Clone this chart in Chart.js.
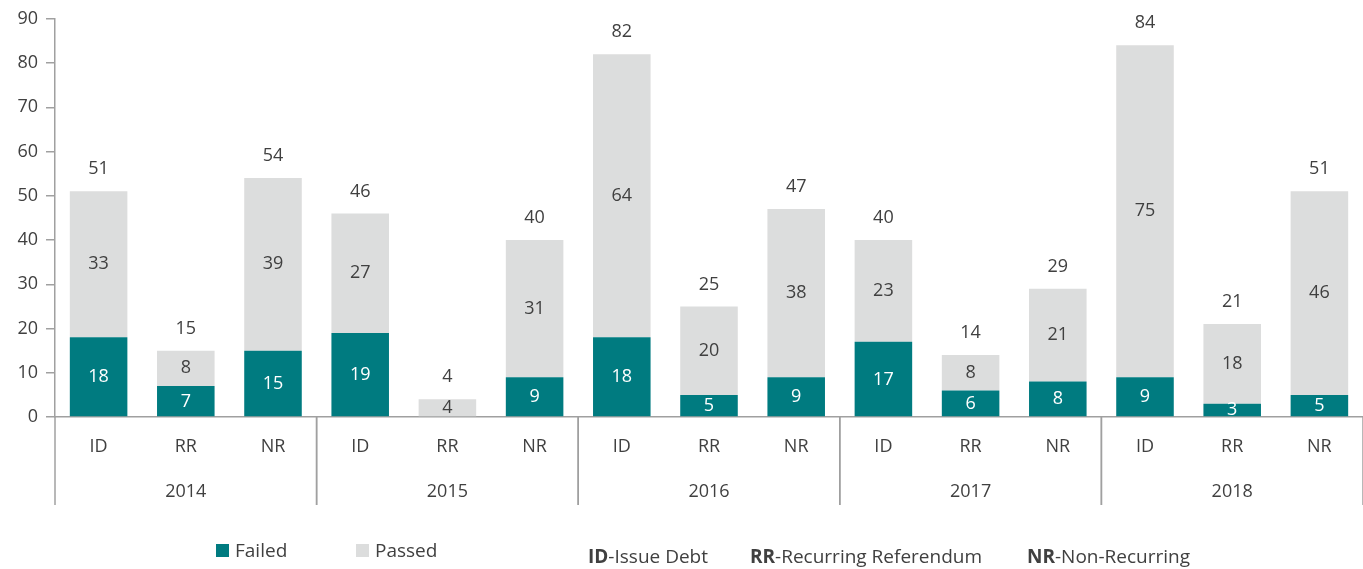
<!DOCTYPE html>
<html>
<head>
<meta charset="utf-8">
<script src="https://cdn.jsdelivr.net/npm/chart.js@4"></script>
<style>
  body { margin: 0; background: #fff; font-family: "Open Sans", sans-serif; color: #404040; }
  #wrap { position: relative; width: 1363px; height: 569px; }
  .leg { position: absolute; font-size: 19px; white-space: nowrap; }
  .sw { display: inline-block; width: 13px; height: 13px; margin-right: 6px; vertical-align: 0px; }
</style>
</head>
<body>
<div id="wrap">
  <canvas id="c" width="1363" height="569"></canvas>
  <div class="leg" style="left:216px; top:537px;"><span class="sw" style="background:#007b80"></span>Failed</div>
  <div class="leg" style="left:356px; top:537px;"><span class="sw" style="background:#dcdddd"></span>Passed</div>
  <div class="leg" style="left:588px; top:543px;"><b>ID</b>-Issue Debt</div>
  <div class="leg" style="left:750px; top:543px;"><b>RR</b>-Recurring Referendum</div>
  <div class="leg" style="left:1027px; top:543px;"><b>NR</b>-Non-Recurring</div>
</div>
<script>
// chart data
const types = ['ID', 'RR', 'NR'];
const years = ['2014', '2015', '2016', '2017', '2018'];
const failed = [18, 7, 15, 19, 0, 9, 18, 5, 9, 17, 6, 8, 9, 3, 5];
const passed = [33, 8, 39, 27, 4, 31, 64, 20, 38, 23, 8, 21, 75, 18, 46];
const yTicks = [0, 10, 20, 30, 40, 50, 60, 70, 80, 90];

const labels = [];
years.forEach(y => types.forEach(t => labels.push(t)));

const TEXT = '#404040';
const AXIS = '#a0a0a0';
const FONT = '"Open Sans", sans-serif';

// draws segment values, totals, category + year labels and separators
const annotate = {
  id: 'annotate',
  afterDatasetsDraw(chart) {
    const ctx = chart.ctx;
    const x = chart.scales.x;
    const y = chart.scales.y;
    ctx.save();
    ctx.font = '18px ' + FONT;
    ctx.textAlign = 'center';
    ctx.textBaseline = 'middle';

    labels.forEach((lab, i) => {
      const cx = x.getPixelForValue(i);
      const f = failed[i], p = passed[i];
      if (f > 0) {
        ctx.fillStyle = '#ffffff';
        ctx.fillText(f, cx, y.getPixelForValue(f / 2));
      }
      if (p > 0) {
        ctx.fillStyle = TEXT;
        ctx.fillText(p, cx, y.getPixelForValue(f + p / 2));
      }
      ctx.fillStyle = TEXT;
      ctx.fillText(f + p, cx, y.getPixelForValue(f + p) - 22);
      // category label
      ctx.fillText(lab, cx, y.bottom + 30);
    });

    // year labels and separators
    ctx.strokeStyle = AXIS;
    ctx.lineWidth = 1.5;
    const half = (x.getPixelForValue(1) - x.getPixelForValue(0)) / 2;
    years.forEach((yr, g) => {
      const first = x.getPixelForValue(g * 3);
      const last = x.getPixelForValue(g * 3 + 2);
      ctx.fillStyle = TEXT;
      ctx.fillText(yr, (first + last) / 2, y.bottom + 75);
      [first - half, last + half].forEach(px => {
        ctx.beginPath();
        ctx.moveTo(px, y.bottom);
        ctx.lineTo(px, y.bottom + 88);
        ctx.stroke();
      });
    });
    ctx.restore();
  }
};

new Chart(document.getElementById('c'), {
  type: 'bar',
  data: {
    labels: labels,
    datasets: [
      { label: 'Failed', data: failed, backgroundColor: '#007b80' },
      { label: 'Passed', data: passed, backgroundColor: '#dcdddd' }
    ]
  },
  options: {
    responsive: false,
    animation: false,
    layout: { padding: { top: 16, right: 0, left: 0, bottom: 0 } },
    plugins: { legend: { display: false }, tooltip: { enabled: false } },
    datasets: { bar: { categoryPercentage: 1, barPercentage: 0.66 } },
    scales: {
      x: {
        stacked: true,
        ticks: { display: false },
        grid: { display: false },
        border: { color: AXIS, width: 1.5 },
        afterFit: s => { s.height = 152; }
      },
      y: {
        stacked: true,
        min: 0,
        max: 90,
        afterBuildTicks: s => { s.ticks = yTicks.map(v => ({ value: v })); },
        ticks: { color: TEXT, font: { family: FONT, size: 18 }, padding: 8 },
        grid: { drawOnChartArea: false, tickLength: 9, color: AXIS, lineWidth: 1.5 },
        border: { color: AXIS, width: 1.5 },
        afterFit: s => { s.width = 55; }
      }
    }
  },
  plugins: [annotate]
});
</script>
</body>
</html>
